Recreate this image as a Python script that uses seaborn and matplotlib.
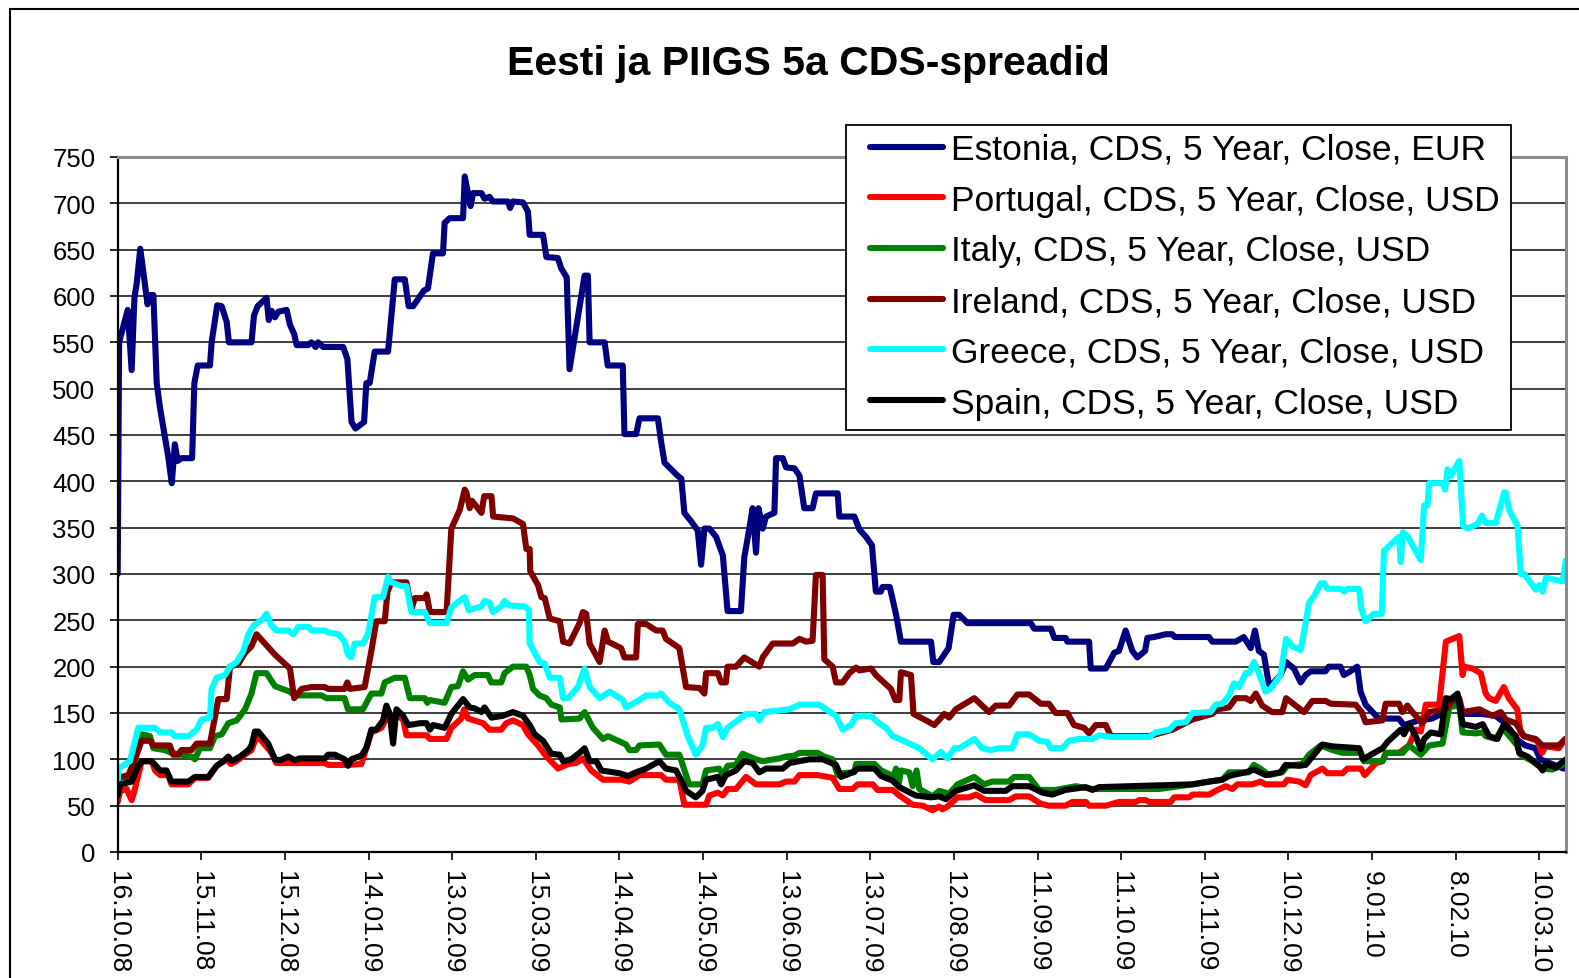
"""Eesti ja PIIGS 5a CDS-spreadid: Excel-style line chart redrawn with seaborn."""
import matplotlib
matplotlib.use("Agg")
import matplotlib.dates as mdates
import matplotlib.pyplot as plt
import pandas as pd
import seaborn as sns
from matplotlib.patches import Rectangle

sns.set_theme(style="white")
plt.rcParams["font.family"] = ["Liberation Sans", "DejaVu Sans"]
plt.rcParams["text.color"] = "black"

START = pd.Timestamp("2008-10-16")
TITLE = "Eesti ja PIIGS 5a CDS-spreadid"

SERIES_NAMES = [
    "Estonia, CDS, 5 Year, Close, EUR",
    "Portugal, CDS, 5 Year, Close, USD",
    "Italy, CDS, 5 Year, Close, USD",
    "Ireland, CDS, 5 Year, Close, USD",
    "Greece, CDS, 5 Year, Close, USD",
    "Spain, CDS, 5 Year, Close, USD",
]
SERIES_COLORS = ["#000080", "#ff0000", "#008000", "#800000", "#00ffff", "#000000"]

TICK_LABELS = ["16.10.08", "15.11.08", "15.12.08", "14.01.09", "13.02.09", "15.03.09",
               "14.04.09", "14.05.09", "13.06.09", "13.07.09", "12.08.09", "11.09.09",
               "11.10.09", "10.11.09", "10.12.09", "9.01.10", "8.02.10", "10.03.10"]
Y_TICKS = list(range(0, 751, 50))

# (days since 16.10.08, spread in bp)
ESTONIA = [
    (0, 300), (0.5, 550), (3.6, 585), (5, 520), (6, 598), (6.8, 613), (8.1, 651), (10.7, 591),
    (11.6, 601), (12.8, 601), (14, 506), (15.2, 479), (18.1, 427), (19.4, 398), (20.5, 440),
    (21.5, 422), (22.9, 425), (26.7, 425), (27.5, 506), (28.7, 525), (33.1, 525), (33.7, 550),
    (35.7, 590), (37.3, 589), (39.1, 572), (39.9, 550), (48, 550), (48.9, 579), (50.2, 589),
    (53.4, 598), (54.2, 574), (55.2, 584), (56.4, 577), (57.6, 583), (60.6, 585), (61.8, 569),
    (63.3, 559), (64.2, 547), (68.3, 547), (69.5, 550), (71, 545), (71.9, 550), (73.7, 545),
    (80.9, 545), (82.4, 532), (83.9, 464), (85.3, 457), (88.4, 464), (89.2, 506), (90.4, 506),
    (92.2, 540), (97, 540), (99.4, 618), (103, 618), (104.4, 589), (106, 589), (109.9, 606),
    (111.3, 608), (113.1, 646), (116.7, 646), (117.3, 679), (119.1, 684), (123.9, 684),
    (124.5, 729), (125.7, 711), (126.6, 697), (127.5, 711), (130.5, 711), (131.6, 705),
    (133.4, 707), (134.6, 702), (140, 702), (140.8, 695), (141.8, 702), (145.4, 701),
    (147.2, 691), (147.8, 666), (152.6, 666), (153.8, 642), (157.9, 641), (159.1, 630),
    (161.1, 620), (162.1, 521), (167.5, 622), (168.7, 622), (169.3, 550), (174.7, 550),
    (175.8, 525), (181.2, 525), (181.8, 451), (186, 451), (187.2, 468), (193.8, 468),
    (195, 442), (196.2, 420), (200.9, 406), (202.2, 403), (203.3, 366), (205.7, 357),
    (208.1, 347), (209.3, 310), (210.5, 349), (212.3, 349), (214.7, 340), (217.1, 320),
    (218.8, 260), (223.6, 260), (224.8, 318), (226.6, 349), (227.8, 371), (229, 323),
    (229.9, 371), (231.4, 349), (232.6, 362), (235.6, 366), (236.2, 425), (238.6, 425),
    (239.8, 415), (242.8, 414), (244.6, 406), (246.3, 371), (249.3, 371), (250.5, 387),
    (258.3, 387), (258.9, 362), (264.3, 362), (266.1, 348), (268.5, 340), (270.6, 331),
    (272, 281), (273.8, 281), (274.4, 286), (277, 286), (279.2, 257), (281, 227), (291.8, 227),
    (292.6, 205), (294.7, 205), (298.1, 220), (299.9, 256), (301.9, 256), (304.9, 247),
    (327.6, 247), (328.8, 241), (334.8, 241), (336, 231), (340.1, 231), (340.7, 227),
    (348.5, 227), (349.1, 198), (354.5, 198), (357.5, 215), (359.2, 217), (361.6, 239),
    (364, 217), (365.8, 210), (368.6, 217), (369.4, 231), (371.8, 232), (376, 235),
    (378.3, 235), (379.3, 232), (391.5, 232), (392.7, 227), (401.1, 227), (404, 232),
    (406.5, 220), (408, 239), (409.4, 217), (411.2, 213), (413, 181), (414.2, 181),
    (417.2, 191), (419.2, 205), (422, 198), (424.4, 183), (426.2, 191), (428, 195),
    (433.3, 195), (434.5, 200), (438.7, 200), (439.9, 191), (442.3, 195), (444.7, 200),
    (445.9, 173), (447.7, 159), (452.4, 144), (459.6, 144), (461.4, 137), (466.8, 142),
    (471.5, 144), (476.3, 151), (479.9, 166), (482.3, 149), (489.5, 149), (494.3, 147),
    (497.8, 139), (502.6, 120), (505, 115), (508.6, 112), (510.4, 100), (514.5, 95),
    (518.7, 90),
]
PORTUGAL = [
    (0, 54), (0.9, 66), (3.2, 68), (5, 56), (6, 66), (8.6, 98), (12.2, 98), (13.4, 88),
    (15.2, 83), (18.1, 83), (19.3, 73), (25.3, 73), (27.7, 80), (32.5, 80), (35.5, 93),
    (39.1, 100), (40.6, 95), (42.6, 98), (45.6, 105), (48, 110), (49.8, 125), (51.6, 120),
    (55.2, 107), (56.9, 96), (74.3, 96), (75.5, 94), (82.6, 94), (87.4, 95), (91, 129),
    (94.6, 134), (96.4, 144), (97.6, 143), (99.4, 149), (102.4, 143), (103.6, 126),
    (110.8, 126), (112, 122), (118, 122), (119.7, 134), (123.3, 144), (124.3, 154),
    (125.7, 144), (131.1, 139), (133.4, 132), (137.6, 132), (139.4, 139), (141.8, 142),
    (145.4, 137), (147.2, 127), (150.8, 115), (153.8, 103), (158, 90), (161.6, 95),
    (164.5, 96), (166.9, 101), (169.9, 88), (174.1, 78), (180.6, 78), (183.6, 76),
    (187.2, 83), (194.9, 83), (196.7, 78), (201.5, 78), (203.3, 51), (211.1, 51), (212.3, 61),
    (215.3, 64), (217.1, 61), (218.8, 68), (221.8, 68), (225.4, 81), (229, 73), (237.4, 73),
    (239.8, 76), (242.8, 76), (244.6, 83), (251.1, 83), (256.5, 80), (258.9, 68), (263.7, 68),
    (265.5, 73), (270.9, 73), (272.6, 67), (278, 67), (280.4, 61), (285.2, 51), (288.8, 50),
    (292.3, 45), (294.7, 49), (295.9, 46), (297.7, 49), (301.3, 59), (305.5, 59), (307.9, 62),
    (311.4, 56), (319.8, 56), (322.2, 60), (327, 60), (331.2, 52), (334.1, 50), (340.1, 50),
    (342.5, 54), (347.3, 54), (348.5, 50), (354.5, 50), (359.2, 54), (365.2, 54), (366.4, 56),
    (368.8, 56), (370, 54), (377.8, 54), (379, 59), (384.4, 59), (385.6, 62), (391.6, 62),
    (393.9, 66), (397.5, 71), (399.9, 68), (401.7, 73), (407, 73), (410, 76), (411.8, 73),
    (418.4, 73), (419.6, 78), (423.8, 76), (426.2, 72), (428, 83), (432.2, 90), (434, 85),
    (439.4, 85), (441.2, 90), (446, 90), (447.4, 83), (451.4, 96), (453.8, 98), (455, 107),
    (459.7, 107), (463.3, 115), (465.7, 132), (467.5, 130), (469.3, 159), (474.1, 159),
    (476.5, 227), (481.3, 233), (482.5, 191), (483.1, 200), (486, 198), (489, 193),
    (490.8, 171), (492, 166), (494.4, 163), (497.3, 178), (499.1, 166), (502.1, 154),
    (503.3, 129), (504.5, 125), (509.3, 120), (511, 107), (512.2, 114), (517, 112),
    (519.4, 122),
]
ITALY = [
    (0, 76), (0.9, 81), (3.8, 81), (5.6, 95), (8.6, 127), (11.6, 125), (12.8, 112), (16.9, 110),
    (19.3, 107), (26.5, 103), (27.7, 100), (29.5, 112), (33.1, 112), (34.9, 125), (37.3, 127),
    (39.7, 139), (42.7, 142), (45.7, 154), (48, 171), (49.8, 193), (53.4, 193), (56.4, 179),
    (61.8, 173), (63.5, 169), (73.1, 169), (74.9, 166), (81.4, 166), (82.6, 154), (88, 154),
    (91, 171), (94.6, 171), (95.8, 183), (99.4, 188), (103, 188), (104.8, 166), (110.2, 166),
    (111.1, 161), (112, 164), (117.3, 161), (119.7, 178), (122.1, 179), (123.9, 195),
    (125.7, 186), (128.1, 191), (132.8, 191), (134, 183), (137.6, 183), (138.8, 193),
    (141.8, 200), (146.6, 200), (147.8, 191), (149, 176), (151.3, 169), (153.8, 166),
    (155.6, 159), (158.6, 156), (159.2, 143), (165.7, 144), (167.5, 151), (170.5, 134),
    (174.1, 122), (175.9, 125), (182.4, 116), (183.6, 110), (186, 110), (187.2, 115),
    (194.3, 116), (196.7, 105), (201.5, 105), (205, 73), (209.8, 73), (211.1, 88),
    (215.8, 90), (217.1, 83), (218.8, 93), (221.8, 94), (224.2, 106), (229, 100), (231.4, 98),
    (237.4, 101), (239.8, 103), (242.8, 104), (244.6, 107), (251.1, 107), (253.5, 103),
    (256.5, 100), (258.3, 83), (259.5, 85), (264.3, 86), (264.9, 95), (271.5, 95), (273.9, 88),
    (277.5, 83), (278, 78), (279.2, 90), (280.2, 73), (281, 88), (284, 86), (285.2, 71),
    (286.6, 88), (287.6, 68), (292.3, 60), (294.7, 66), (298.3, 63), (301.3, 73), (307.3, 81),
    (310.8, 73), (313.8, 76), (319.8, 76), (321.6, 81), (327, 81), (330.6, 67), (336.5, 67),
    (343.7, 71), (349.7, 68), (373.6, 68), (385.6, 73), (391.5, 76), (396.3, 78), (398.7, 86),
    (405.8, 86), (407.6, 94), (410, 90), (413, 83), (417.8, 86), (419.6, 93), (425, 95),
    (427.4, 105), (431.6, 115), (435.8, 110), (439.4, 107), (446, 107), (447.1, 98),
    (453.8, 98), (455, 107), (461, 107), (463.3, 115), (467.5, 105), (470.5, 115),
    (475.3, 117), (477.7, 156), (481.3, 159), (482.5, 129), (487.3, 128), (489.7, 129),
    (490.8, 125), (494.4, 122), (496.8, 134), (502.1, 115), (503.3, 105), (507.5, 98),
    (511.1, 90), (514.7, 89), (518.9, 95),
]
IRELAND = [
    (0, 78), (1.4, 81), (3.8, 83), (5.6, 95), (8.6, 120), (11.6, 120), (12.8, 115), (18.7, 115),
    (19.9, 105), (21.7, 105), (22.9, 110), (26.5, 110), (28.3, 117), (33.1, 117), (36.1, 165),
    (39.1, 165), (40.3, 200), (43.3, 203), (45.7, 215), (48, 222), (49.8, 235), (52.2, 227),
    (56.4, 213), (60, 203), (61.8, 198), (63.3, 166), (66, 176), (69.5, 178), (74.3, 178),
    (75.5, 176), (81.4, 176), (82.4, 183), (83.3, 176), (88.6, 178), (91, 217), (92.8, 249),
    (95.8, 249), (96.8, 281), (98.2, 291), (103.6, 291), (105.4, 262), (106.6, 274),
    (110.2, 274), (110.8, 278), (112, 259), (118, 259), (119.7, 349), (122.7, 369),
    (124.5, 391), (125.1, 388), (126.3, 371), (127.1, 379), (130.5, 366), (131.5, 384),
    (134.1, 384), (134.7, 362), (141.8, 360), (145.4, 354), (146.6, 327), (147.8, 327),
    (148, 303), (150.8, 288), (152, 275), (153.2, 274), (155, 252), (158.6, 249), (159.8, 227),
    (162.1, 225), (165.7, 247), (166.9, 259), (168.1, 257), (169.3, 225), (172.9, 205),
    (174.7, 239), (175.9, 227), (180.6, 220), (181.8, 210), (186, 210), (186.6, 246),
    (189.6, 246), (193.2, 239), (195.5, 239), (196.7, 230), (201.5, 220), (203.9, 178),
    (208.7, 177), (210.5, 171), (211.1, 193), (215.3, 193), (216.5, 183), (218.2, 183),
    (218.8, 200), (221.8, 200), (224.8, 210), (230.2, 200), (231.4, 210), (235, 225),
    (242.2, 225), (244.6, 230), (247, 227), (249.3, 228), (250.5, 299), (252.9, 299),
    (253.5, 208), (256.5, 200), (257.7, 183), (260.1, 183), (262.5, 193), (264.9, 199),
    (266.1, 196), (270.3, 198), (272, 191), (277.4, 176), (279, 164), (280.4, 164), (281, 194),
    (284.6, 191), (285.5, 149), (290, 142), (293, 137), (296.6, 149), (298.3, 145),
    (300.7, 154), (307.3, 166), (312.6, 151), (315, 158), (319.8, 158), (322.8, 170),
    (327, 170), (331.2, 160), (334.1, 160), (336.5, 150), (340.7, 150), (343.1, 137),
    (346.7, 134), (348.5, 128), (350.9, 137), (354.5, 137), (356.3, 125), (370, 125),
    (378.4, 132), (385.6, 143), (392.7, 149), (394.5, 154), (398.7, 156), (401.1, 166),
    (404.7, 166), (406.5, 163), (408.3, 171), (410.6, 158), (414.2, 151), (417.8, 151),
    (419.2, 166), (425.6, 151), (428.6, 163), (433.4, 163), (435.2, 160), (444.1, 159),
    (446.3, 151), (447.7, 140), (453.7, 142), (454.9, 160), (459.7, 160), (460.9, 151),
    (462.7, 158), (464.5, 151), (468.1, 139), (470.5, 151), (476.5, 154), (479.4, 166),
    (481.3, 166), (482.5, 151), (488.5, 154), (493.2, 147), (496.2, 151), (498, 143),
    (501.6, 139), (504.5, 125), (508.7, 122), (511.1, 115), (517, 115), (519.4, 122),
]
GREECE = [
    (0, 73), (0.2, 90), (4.4, 98), (7.4, 134), (13.4, 134), (15.2, 129), (19.3, 129),
    (20.5, 125), (25.3, 125), (28.3, 132), (30.1, 143), (33.1, 145), (33.7, 176), (35.5, 188),
    (38.5, 191), (40.3, 200), (42.7, 205), (45.1, 217), (46.9, 235), (48.7, 244), (52.2, 252),
    (53.4, 257), (55.2, 244), (57, 239), (61.2, 239), (63, 235), (64.8, 243), (68.4, 243),
    (69.5, 239), (74.3, 239), (75.5, 237), (79.1, 235), (81.4, 227), (82.6, 213), (83.8, 210),
    (85, 225), (88, 225), (89.8, 235), (92.2, 275), (95.2, 275), (97, 297), (98.2, 291),
    (101.8, 287), (103.6, 287), (105.4, 259), (110.2, 259), (112, 247), (118, 247),
    (119.7, 264), (123.9, 274), (124.5, 275), (125.9, 261), (130.5, 265), (131.6, 271),
    (133.4, 269), (134.6, 259), (137.6, 265), (138.8, 271), (140.6, 266), (146, 265),
    (147.5, 261), (147.8, 225), (151.4, 205), (153.2, 203), (155, 188), (158.6, 188),
    (159.8, 166), (161.6, 166), (165.1, 178), (167.5, 198), (169.3, 178), (172.9, 166),
    (176.5, 173), (181.2, 164), (182.4, 156), (187.2, 164), (189.6, 169), (193.8, 169),
    (194.9, 171), (197.9, 161), (201.5, 154), (204.5, 125), (207.4, 105), (209.8, 115),
    (211.1, 134), (213.4, 134), (215.3, 138), (217.1, 124), (218.8, 134), (222.4, 142),
    (225.4, 149), (229, 149), (230.2, 142), (232, 151), (241, 154), (244.6, 159), (251.7, 159),
    (254.1, 154), (257.7, 147), (260.1, 132), (263.1, 137), (264.9, 147), (270.3, 147),
    (272.6, 140), (275.6, 134), (278, 125), (280.4, 122), (287.6, 112), (292.3, 100),
    (295.3, 108), (297.7, 101), (300.1, 112), (301.9, 112), (307.3, 122), (310.2, 112),
    (313.2, 110), (316.2, 112), (321, 112), (322.8, 127), (327, 127), (330.6, 120),
    (333.5, 119), (334.7, 112), (338.9, 112), (341.3, 120), (344.9, 122), (349.7, 122),
    (352.1, 126), (356.9, 124), (370, 124), (372.4, 129), (377.2, 132), (379.6, 139),
    (383.2, 140), (385.6, 150), (392.1, 151), (393.9, 159), (396.3, 160), (398.7, 169),
    (400.5, 182), (402.3, 178), (404.7, 193), (405.9, 193), (407.7, 205), (409.4, 193),
    (411.8, 173), (413.6, 176), (417.2, 191), (419.2, 230), (421.4, 222), (424.4, 218),
    (425.6, 237), (427.4, 269), (429.2, 276), (431.6, 290), (432.8, 290), (434, 284),
    (438.8, 284), (440, 281), (441.2, 284), (445.4, 284), (446, 264), (447.7, 249),
    (450.7, 257), (453.5, 257), (454.3, 325), (456.1, 330), (458.5, 337), (459.7, 340),
    (460.3, 313), (461.1, 345), (462.7, 341), (467.5, 315), (468.7, 374), (469.9, 374),
    (470.5, 398), (475.3, 398), (476.2, 391), (477.1, 413), (478.3, 406), (481.3, 422),
    (482.7, 352), (484.3, 349), (487.9, 354), (489.4, 363), (490.8, 355), (494.4, 355),
    (497.4, 388), (498, 388), (499.2, 369), (502.2, 352), (503.4, 300), (504.6, 300),
    (508.8, 283), (510, 288), (511.2, 281), (512.4, 296), (518.4, 292), (519.6, 315),
]
SPAIN = [
    (0, 61), (0.9, 73), (5, 76), (7.4, 93), (8.6, 98), (12.2, 98), (15.2, 88), (17.5, 88),
    (19.3, 76), (25.3, 76), (27.7, 81), (32.5, 81), (35.5, 93), (37.9, 98), (39.7, 103),
    (40.9, 98), (43.9, 103), (46.9, 110), (48, 115), (49.2, 130), (50.4, 130), (54, 117),
    (56.4, 100), (58.2, 99), (61.2, 103), (63.5, 99), (65.3, 101), (74.3, 101), (75.5, 105),
    (77.9, 105), (81.4, 100), (82.6, 93), (83.8, 100), (87.4, 104), (89.2, 112), (91, 132),
    (92.8, 132), (95.2, 142), (96.4, 158), (97.6, 149), (98.8, 117), (100, 154), (102.4, 147),
    (104.2, 137), (106.6, 138), (108.4, 139), (110.8, 139), (112, 132), (113.2, 137),
    (117.3, 134), (119.7, 149), (123.9, 165), (126.3, 156), (128.1, 155), (130.5, 151),
    (131.6, 156), (134.1, 145), (138.2, 147), (141.8, 151), (145.4, 147), (147.8, 137),
    (149.6, 127), (152.6, 120), (155.6, 106), (158.6, 105), (159.8, 98), (162.7, 100),
    (165.7, 107), (167.5, 112), (169.3, 98), (171.7, 98), (173.5, 88), (180, 85), (183, 82),
    (186, 86), (189.6, 90), (194.3, 98), (196.7, 90), (200.3, 88), (202.1, 78), (203.9, 66),
    (207.4, 59), (209.8, 66), (211.1, 78), (215.3, 81), (216.5, 73), (218.2, 83), (221.8, 88),
    (224.8, 98), (227.8, 96), (230.2, 86), (232.6, 90), (238.6, 90), (241, 96), (248.1, 100),
    (252.9, 100), (257.7, 94), (259.5, 81), (263.7, 86), (265.5, 90), (271.5, 90),
    (273.9, 82), (278, 77), (280.4, 70), (286.3, 61), (291.7, 59), (294.7, 60), (297.1, 57),
    (300.7, 66), (307.3, 72), (310.8, 66), (318.6, 66), (321, 71), (327, 71), (331.8, 64),
    (335.3, 62), (340.1, 67), (347.3, 70), (349.7, 67), (352.1, 70), (385.6, 73), (391.6, 76),
    (396.3, 78), (398.7, 82), (399.9, 83), (404.7, 86), (407.7, 89), (411.8, 83), (417.2, 86),
    (419, 94), (423.8, 93), (426.2, 94), (432.2, 116), (435.8, 114), (445.4, 112),
    (446.8, 100), (449.6, 105), (453.8, 112), (455.6, 119), (458.5, 127), (460.3, 132),
    (461.5, 127), (463.3, 138), (465.7, 125), (467.5, 111), (468.7, 122), (471.1, 129),
    (474.7, 127), (476.5, 166), (478.3, 165), (480.7, 171), (482.5, 138), (487.3, 135),
    (489.7, 138), (492, 125), (495, 122), (497.4, 138), (501.6, 125), (502.8, 107),
    (505.8, 103), (510, 93), (511.2, 88), (512.4, 95), (516, 91), (517.8, 96), (519.6, 100),
]
SERIES_DATA = [ESTONIA, PORTUGAL, ITALY, IRELAND, GREECE, SPAIN]


def build_frame() -> pd.DataFrame:
    frames = []
    for name, points in zip(SERIES_NAMES, SERIES_DATA):
        part = pd.DataFrame(points, columns=["day", "value"])
        part["date"] = START + pd.to_timedelta(part["day"], unit="D")
        part["series"] = name
        frames.append(part)
    return pd.concat(frames, ignore_index=True)


def main() -> None:
    df = build_frame()
    W, H = 1579, 979
    fig = plt.figure(figsize=(W / 100, H / 100), dpi=100)
    fig.patch.set_facecolor("white")
    ax = fig.add_axes([117.7 / W, 1 - 853 / H, (1566 - 117.7) / W, (853 - 158) / H])

    # Chart-area border (Excel style), cut off at right and bottom edges.
    fig.add_artist(Rectangle((10 / W, -0.05), 1.2, 1 - 10 / H + 0.05, transform=fig.transFigure,
                             fill=False, edgecolor="black", linewidth=1.5))

    sns.lineplot(data=df, x="date", y="value", hue="series", hue_order=SERIES_NAMES,
                 palette=dict(zip(SERIES_NAMES, SERIES_COLORS)), estimator=None, sort=False,
                 legend=False, ax=ax)
    lines = ax.get_lines()[:len(SERIES_NAMES)]
    for line in lines:
        line.set_linewidth(4.4)
        line.set_solid_joinstyle("round")
        line.set_solid_capstyle("round")

    ax.set_xlim(mdates.date2num(START), mdates.date2num(START + pd.Timedelta(days=519.6)))
    ax.set_ylim(0, 750)
    ax.set_yticks(Y_TICKS)
    ax.set_yticklabels([str(v) for v in Y_TICKS], fontsize=18.5)
    tick_dates = [START + pd.Timedelta(days=30 * i) for i in range(len(TICK_LABELS))]
    ax.set_xticks(mdates.date2num(tick_dates))
    ax.set_xticklabels(TICK_LABELS, rotation=-90, fontsize=19, ha="center", va="top")
    ax.set_xlabel("")
    ax.set_ylabel("")
    ax.tick_params(axis="both", direction="out", length=6, width=1.2, color="black",
                   labelcolor="black", bottom=True, left=True)
    ax.tick_params(axis="y", pad=10)
    ax.tick_params(axis="x", pad=7)

    ax.yaxis.grid(True, color="#2e2e2e", linewidth=1.3)
    ax.xaxis.grid(False)
    ax.set_axisbelow(True)
    for side in ("left", "bottom"):
        ax.spines[side].set_color("black")
        ax.spines[side].set_linewidth(1.6)
    for side in ("top", "right"):
        ax.spines[side].set_color("#8c8c8c")
        ax.spines[side].set_linewidth(2.2)

    # Legend box drawn separately so its padding matches the Excel frame.
    box = Rectangle((846 / W, 1 - 431 / H), (1511 - 846) / W, (431 - 126) / H,
                    transform=fig.transFigure, facecolor="white", edgecolor="black",
                    linewidth=1.3, zorder=4)
    ax.add_patch(box)
    box.set_clip_on(False)
    leg = ax.legend(lines, SERIES_NAMES, loc="upper left",
                    bbox_to_anchor=(870 / W, 1 - 134 / H), bbox_transform=fig.transFigure,
                    fontsize=25.5, frameon=False, handlelength=2.05, handletextpad=0.25,
                    labelspacing=0.5, borderpad=0, borderaxespad=0)
    leg.set_zorder(5)
    for handle in leg.get_lines():
        handle.set_linewidth(4.4)
        handle.set_solid_capstyle("round")

    fig.text(808 / W, 1 - 64 / H, TITLE, ha="center", va="center",
             fontsize=29.5, fontweight="bold", color="black")

    fig.savefig("out.png", dpi=100, facecolor="white")
    plt.close(fig)


if __name__ == "__main__":
    main()
